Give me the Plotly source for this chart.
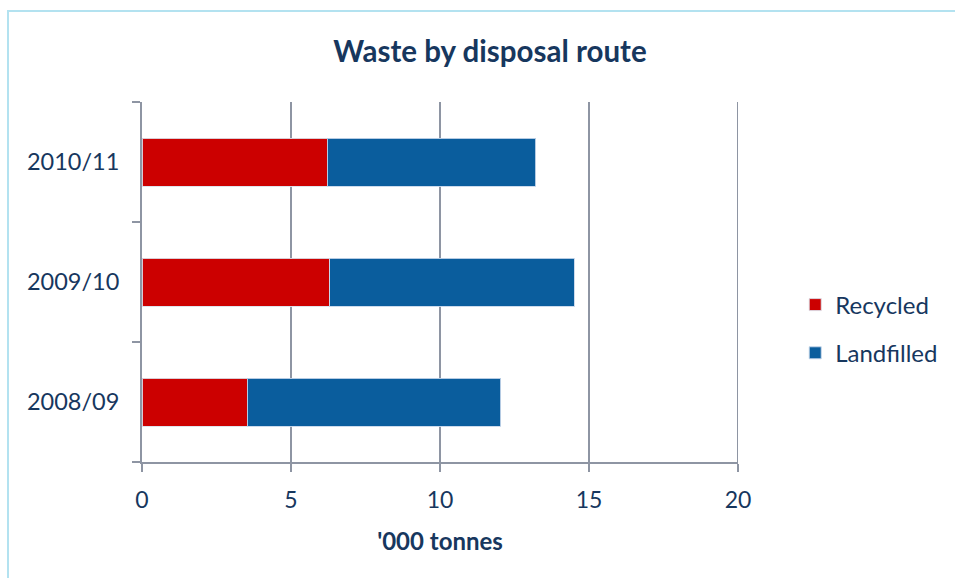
import plotly.graph_objects as go

# Financial years, bottom to top on the category axis
years = ["2008/09", "2009/10", "2010/11"]

# Waste tonnage ('000 tonnes) split by disposal route
recycled = [3.53, 6.30, 6.22]
landfilled = [8.51, 8.21, 6.99]

x_ticks = [0, 5, 10, 15, 20]

NAVY = "#17375e"
GRID = "#8e95a3"
FONT = "Lato, 'Open Sans', sans-serif"

fig = go.Figure()
fig.add_trace(go.Bar(
    y=years, x=recycled, name="Recycled", orientation="h",
    marker=dict(color="#cc0000", line=dict(color="rgba(220,225,235,0.9)", width=1)),
    legendgroup="r",
))
fig.add_trace(go.Bar(
    y=years, x=landfilled, name="Landfilled", orientation="h",
    marker=dict(color="#0a5d9d", line=dict(color="rgba(200,215,235,0.9)", width=1)),
    legendgroup="l",
))

# Plotly drops the gridline sitting on the range edge; draw the last one explicitly
edge_grid = dict(
    type="line", xref="x", yref="paper",
    x0=x_ticks[-1], x1=x_ticks[-1], y0=0, y1=1,
    line=dict(color=GRID, width=2), layer="below",
)

frame = dict(
    type="rect", xref="paper", yref="paper",
    x0=(8 - 142) / 596, x1=(990 - 142) / 596,
    y0=(462 - 620) / 360, y1=(462 - 11) / 360,
    line=dict(color="#b3e2f0", width=2), fillcolor="rgba(0,0,0,0)",
    layer="below",
)

fig.update_layout(
    width=955, height=578,
    barmode="stack", bargap=0.6,
    paper_bgcolor="white", plot_bgcolor="white",
    margin=dict(l=142, r=217, t=102, b=116, autoexpand=False),
    font=dict(family=FONT, color=NAVY, size=23),
    title=dict(
        text="<b>Waste by disposal route</b>",
        x=490 / 955, xanchor="center",
        y=1 - 52 / 578, yanchor="middle",
        font=dict(family=FONT, size=29.5, color=NAVY),
    ),
    showlegend=True,
    legend=dict(
        x=1.096, xanchor="left", y=(462 - 329) / 360, yanchor="middle",
        traceorder="grouped", tracegroupgap=14,
        itemwidth=30,
        font=dict(family=FONT, size=24, color=NAVY),
        bgcolor="rgba(0,0,0,0)",
    ),
    xaxis=dict(
        range=[0, 20], tickvals=x_ticks, ticktext=[str(v) for v in x_ticks],
        showgrid=True, gridcolor=GRID, gridwidth=2,
        showline=True, linecolor=GRID, linewidth=2,
        ticks="outside", ticklen=8, tickwidth=2, tickcolor=GRID,
        zeroline=False,
        tickfont=dict(family=FONT, size=23, color=NAVY),
        ticklabelstandoff=8,
        title=dict(text="<b>'000 tonnes</b>", standoff=22,
                   font=dict(family=FONT, size=24, color=NAVY)),
    ),
    yaxis=dict(
        categoryorder="array", categoryarray=years,
        range=[-0.5, 2.5],
        showline=True, linecolor=GRID, linewidth=2,
        ticks="outside", tickson="boundaries", ticklen=8, tickwidth=2, tickcolor=GRID,
        showgrid=False, zeroline=False,
        tickfont=dict(family=FONT, size=23.5, color=NAVY),
        ticklabelstandoff=16,
    ),
    shapes=[frame, edge_grid],
)

fig.write_html("out.html")
